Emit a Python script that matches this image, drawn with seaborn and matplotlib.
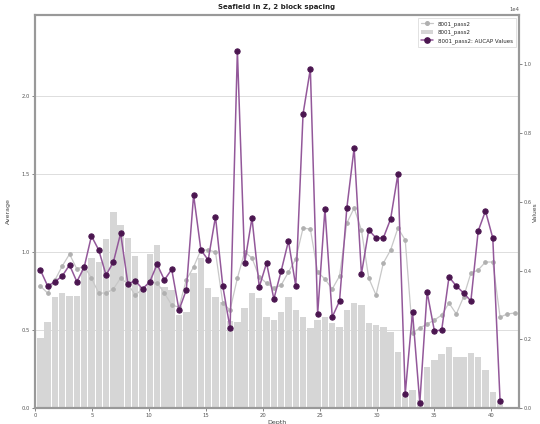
import matplotlib
matplotlib.use("Agg")
import matplotlib.pyplot as plt
import seaborn as sns
import numpy as np
import pandas as pd
from matplotlib.lines import Line2D
from matplotlib.patches import Patch

depth = [0.47, 1.11, 1.75, 2.39, 3.03, 3.67, 4.31, 4.95, 5.59, 6.23, 6.87, 7.51, 8.15, 8.79,
         9.43, 10.07, 10.71, 11.35, 11.99, 12.63, 13.27, 13.91, 14.55, 15.19, 15.83, 16.47,
         17.11, 17.75, 18.39, 19.03, 19.67, 20.31, 20.95, 21.59, 22.23, 22.87, 23.51, 24.15,
         24.79, 25.43, 26.07, 26.71, 27.35, 27.99, 28.63, 29.27, 29.91, 30.55, 31.19, 31.83,
         32.47, 33.11, 33.75, 34.39, 35.03, 35.67, 36.31, 36.95, 37.59, 38.23, 38.87, 39.51,
         40.15, 40.79, 41.43, 42.07]

avg_line = [0.782, 0.737, 0.821, 0.910, 0.987, 0.891, 0.910, 0.833, 0.737, 0.737, 0.763, 0.833,
            0.795, 0.724, 0.763, 0.808, 0.801, 0.737, 0.660, 0.647, 0.821, 0.904, 1.013, 1.013,
            1.000, 0.673, 0.628, 0.833, 1.000, 0.962, 0.840, 0.801, 0.769, 0.788, 0.872, 0.955,
            1.154, 1.147, 0.872, 0.827, 0.763, 0.846, 1.186, 1.282, 1.141, 0.833, 0.724, 0.929,
            1.013, 1.154, 1.077, 0.481, 0.513, 0.538, 0.564, 0.596, 0.673, 0.603, 0.712, 0.865,
            0.885, 0.936, 0.936, 0.583, 0.603, 0.609]

avg_bars = [0.449, 0.551, 0.712, 0.737, 0.718, 0.718, 0.885, 0.962, 0.936, 1.083, 1.256, 1.173,
            1.090, 0.974, 0.776, 0.987, 1.045, 0.776, 0.756, 0.596, 0.615, 0.865, 0.962, 0.769,
            0.712, 0.679, 0.558, 0.551, 0.641, 0.737, 0.705, 0.583, 0.564, 0.615, 0.712, 0.628,
            0.583, 0.513, 0.564, 0.583, 0.545, 0.519, 0.628, 0.673, 0.660, 0.545, 0.532, 0.519,
            0.487, 0.359, 0.083, 0.115, 0.051, 0.263, 0.308, 0.346, 0.391, 0.327, 0.327, 0.353,
            0.327, 0.244, 0.103, 0.038]

aucap_values = [4017, 3552, 3677, 3843, 4163, 3677, 4096, 5007, 4600, 3872, 4242, 5086, 3610,
                3706, 3464, 3677, 4183, 3726, 4038, 2853, 3435, 6201, 4600, 4309, 5569, 3552,
                2320, 10402, 4221, 5531, 3523, 4221, 3173, 3988, 4862, 3552, 8559, 9869, 2737,
                5793, 2649, 3115, 5822, 7569, 3901, 5182, 4949, 4949, 5502, 6812, 408, 2795,
                146, 3377, 2242, 2271, 3814, 3552, 3348, 3115, 5153, 5735, 4949, 204]

title = "Seafield in Z, 2 block spacing"
series_names = ["8001_pass2", "8001_pass2", "8001_pass2: AUCAP Values"]

sns.set_style("white")
plt.rcParams['font.family'] = ['DejaVu Sans']

fig = plt.figure(figsize=(5.4, 4.24), dpi=100)
ax = fig.add_axes([35 / 540, 1 - 408 / 424, (519 - 35) / 540, (408 - 15) / 424])

bar_df = pd.DataFrame({"depth": depth[:len(avg_bars)], "avg": avg_bars})
sns.barplot(data=bar_df, x="depth", y="avg", native_scale=True, color="#d6d6d6",
            saturation=1, width=0.88, ax=ax, edgecolor="none", zorder=1)

line_df = pd.DataFrame({"depth": depth[:len(avg_line)], "avg": avg_line})
sns.lineplot(data=line_df, x="depth", y="avg", ax=ax, color="#c8c8c8", lw=0.9,
             marker="o", markersize=2.6, markerfacecolor="#b0b0b0",
             markeredgecolor="#b0b0b0", zorder=3)

ax.set_xlim(0, 42.45)
ax.set_ylim(0, 2.52)
ax.set_yticks([0.0, 0.5, 1.0, 1.5, 2.0])
ax.set_xticks([0, 5, 10, 15, 20, 25, 30, 35, 40])
ax.yaxis.grid(True, color="#dddddd", lw=0.7)
ax.set_axisbelow(True)
ax.set_xlabel("Depth", fontsize=4.5, labelpad=1.5, color="#444444")
ax.set_ylabel("Average", fontsize=4.5, labelpad=8, color="#444444")
ax.tick_params(axis="both", labelsize=3.8, colors="#555555", length=2, width=0.5,
               pad=1.5, direction="out")
ax.tick_params(left=True, bottom=True)

ax2 = ax.twinx()
val_df = pd.DataFrame({"depth": depth[:len(aucap_values)], "val": aucap_values})
sns.lineplot(data=val_df, x="depth", y="val", ax=ax2, color="#93589a", lw=1.1,
             marker="o", markersize=3.8, markerfacecolor="#4b1650",
             markeredgecolor="#4b1650", zorder=4)
ax2.set_ylim(0, 11440)
ax2.set_yticks([0, 2000, 4000, 6000, 8000, 10000])
ax2.ticklabel_format(axis="y", style="sci", scilimits=(0, 0))
ax2.yaxis.get_offset_text().set_fontsize(3.8)
ax2.yaxis.get_offset_text().set_color("#555555")
ax2.set_ylabel("")
ax2.tick_params(axis="y", labelsize=3.6, colors="#555555", length=2, width=0.5,
                pad=1.2, direction="out")
ax2.tick_params(right=True)
ax2.set_xlabel("")
fig.text(535.5 / 540, 0.5, "Values", rotation=90, ha="center", va="center",
         fontsize=4.3, color="#444444")

for a in (ax, ax2):
    for s in a.spines.values():
        s.set_color("#999999")
        s.set_linewidth(1.5)

ax.set_title(title, fontsize=5, fontweight="bold", pad=4, color="#222222")

handles = [
    Line2D([], [], color="#c8c8c8", lw=0.9, marker="o", markersize=2.6,
           markerfacecolor="#b0b0b0", markeredgecolor="#b0b0b0"),
    Patch(facecolor="#d6d6d6", edgecolor="none"),
    Line2D([], [], color="#93589a", lw=1.1, marker="o", markersize=3.8,
           markerfacecolor="#4b1650", markeredgecolor="#4b1650"),
]
leg = ax2.legend(handles, series_names, loc="upper right", fontsize=4,
                 frameon=True, fancybox=False, borderpad=0.6, handlelength=2.2,
                 labelspacing=0.5, bbox_to_anchor=(1.0, 1.0))
leg.get_frame().set_edgecolor("#cccccc")
leg.get_frame().set_linewidth(0.5)
if ax.get_legend():
    ax.get_legend().remove()

fig.savefig("out.png", dpi=100)
